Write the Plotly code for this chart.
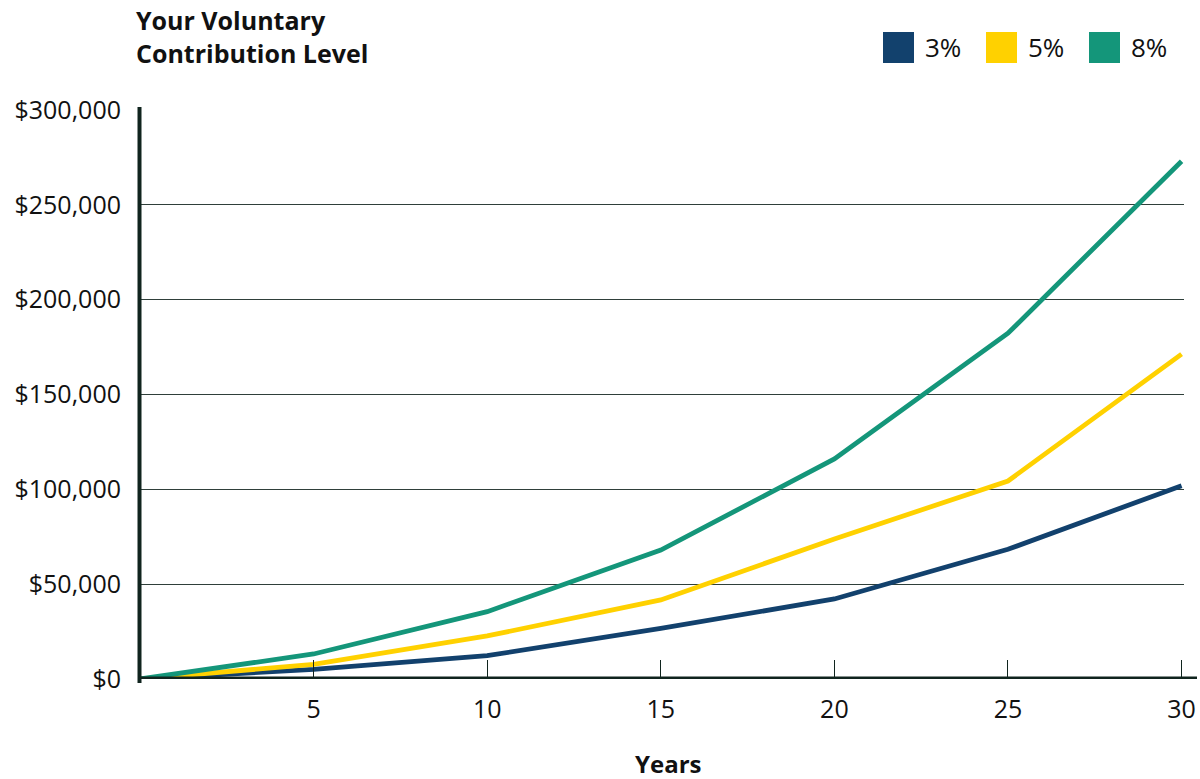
import plotly.graph_objects as go

# Projected balance by year for each voluntary contribution level
years = [0, 5, 10, 15, 20, 25, 30]
series_names = ["3%", "5%", "8%"]
balance_3 = [0, 5100, 12300, 26700, 42200, 68400, 101900]
balance_5 = [0, 7700, 22700, 41700, 73800, 104400, 171300]
balance_8 = [0, 13200, 35500, 68000, 116000, 182300, 273000]
series_colors = ["#12416D", "#FFD100", "#14967A"]

x_ticks = [5, 10, 15, 20, 25, 30]
y_ticks = [0, 50000, 100000, 150000, 200000, 250000, 300000]
y_tick_labels = ["$0", "$50,000", "$100,000", "$150,000", "$200,000", "$250,000", "$300,000"]

FONT = "Open Sans"
TEXT = "#111111"
AXIS_DARK = "#10241E"
GRID = "#2F3F3A"

# plot area in pixels (used to place the legend and labels in paper units)
L, R, T, B = 140, 1184, 110, 679
W, H = R - L, B - T


def px_x(px):
    return (px - L) / W


def px_y(py):
    return (B - py) / H


fig = go.Figure()
for name, vals, color in zip(series_names, [balance_3, balance_5, balance_8], series_colors):
    fig.add_trace(go.Scatter(
        x=years, y=vals, name=name, mode="lines",
        line=dict(color=color, width=4.8),
        showlegend=False, hoverinfo="x+y+name",
    ))

shapes = [
    # heavy baseline, running a little past the last year
    dict(type="line", xref="paper", yref="y", x0=px_x(138), x1=px_x(1197), y0=0, y1=0,
         line=dict(color=AXIS_DARK, width=5), layer="above"),
    # heavy left axis
    dict(type="line", xref="paper", yref="paper", x0=px_x(139.5), x1=px_x(139.5),
         y0=px_y(683), y1=px_y(107),
         line=dict(color=AXIS_DARK, width=4), layer="above"),
]
annotations = [
    dict(text="<b>Your Voluntary<br>Contribution Level</b>", xref="paper", yref="paper",
         x=px_x(134), y=px_y(1), xanchor="left", yanchor="top", align="left", showarrow=False,
         font=dict(family=FONT, size=25, color=TEXT)),
    dict(text="<b>Years</b>", xref="paper", yref="paper",
         x=px_x(668), y=px_y(763), xanchor="center", yanchor="middle", showarrow=False,
         font=dict(family=FONT, size=24, color=TEXT)),
]

# legend: colored squares followed by the series names
legend_x = [883, 986, 1089]
for name, color, px in zip(series_names, series_colors, legend_x):
    shapes.append(dict(type="rect", xref="paper", yref="paper",
                       x0=px_x(px), x1=px_x(px + 31), y0=px_y(63), y1=px_y(32),
                       line=dict(width=0), fillcolor=color))
    annotations.append(dict(text=name, xref="paper", yref="paper",
                            x=px_x(px + 40), y=px_y(47),
                            xanchor="left", yanchor="middle", showarrow=False,
                            font=dict(family=FONT, size=26, color=TEXT)))

fig.update_layout(
    width=1200, height=779,
    margin=dict(l=L, r=1200 - R, t=T, b=779 - B),
    paper_bgcolor="white", plot_bgcolor="white",
    font=dict(family=FONT, size=24, color=TEXT),
    shapes=shapes, annotations=annotations,
    xaxis=dict(
        range=[0, 30.07], tickvals=x_ticks, ticktext=[str(v) for v in x_ticks],
        ticks="inside", ticklen=19, tickwidth=1.3, tickcolor=AXIS_DARK,
        showgrid=False, zeroline=False, showline=False, automargin=False,
        ticklabelstandoff=13,
        tickfont=dict(family=FONT, size=25, color=TEXT),
        fixedrange=True,
    ),
    yaxis=dict(
        range=[0, 300000], tickvals=y_ticks, ticktext=y_tick_labels,
        ticks="", showgrid=True, gridcolor=GRID, gridwidth=1.2,
        zeroline=False, showline=False, automargin=False, ticklabelstandoff=18,
        tickfont=dict(family=FONT, size=25, color=TEXT),
        fixedrange=True,
    ),
)

fig.write_html("out.html")
